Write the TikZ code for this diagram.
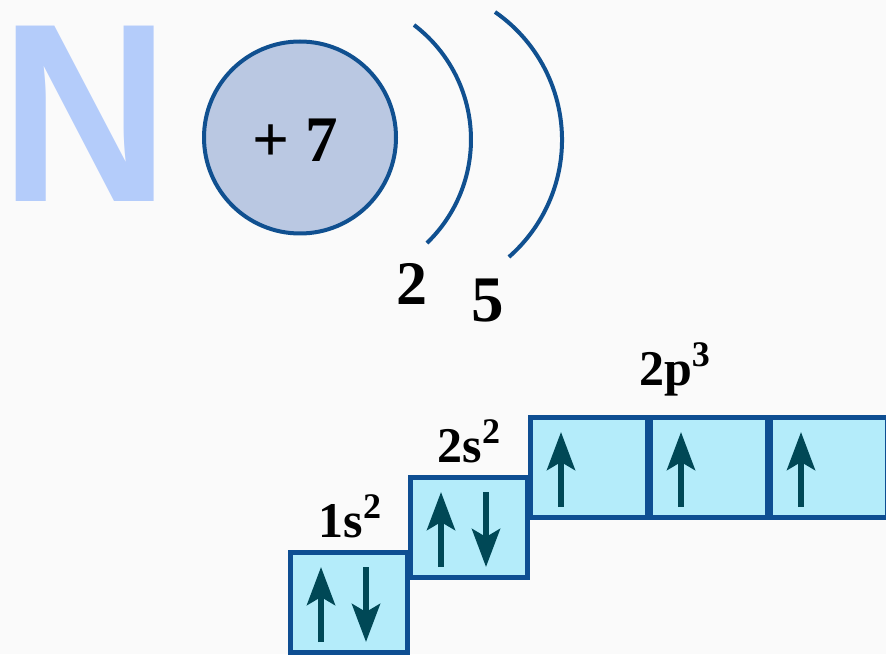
\documentclass[tikz,border=0pt]{standalone}
\usepackage{fontspec}
\setmainfont{Liberation Serif}
\newfontfamily\letterfont{Liberation Sans Bold}
\usetikzlibrary{arrows.meta}
\definecolor{bgcol}{RGB}{250,250,250}
\definecolor{ncol}{RGB}{180,204,250}
\definecolor{nucfill}{RGB}{186,200,226}
\definecolor{nucline}{RGB}{16,80,144}
\definecolor{orbfill}{RGB}{180,236,250}
\definecolor{orbline}{RGB}{14,78,146}
\definecolor{spincol}{RGB}{0,72,86}
\newcommand{\orbsup}[1]{\raisebox{19pt}{\fontsize{36}{36}\selectfont #1}}
\tikzset{
  orb/.style={draw=orbline, fill=orbfill, line width=5pt, minimum width=117pt, minimum height=100pt, inner sep=0pt, outer sep=0pt},
  spin/.style={draw=spincol, line width=6pt, -{Stealth[length=38pt, width=28pt, inset=8pt]}},
  shell/.style={draw=nucline, line width=4pt},
  lbl/.style={font=\fontsize{50}{50}\selectfont\bfseries, anchor=base, inner sep=0pt},
}
\begin{document}
\begin{tikzpicture}[x=1pt, y=1pt]
\useasboundingbox (0,0) rectangle (886,654);
\fill[bgcol] (0,0) rectangle (886,654);
% element symbol and nucleus
\node[font=\letterfont\fontsize{255}{255}\selectfont, text=ncol, inner sep=0pt] (sym) at (85.5,540.5) {\scalebox{0.92}[1]{N}};
\node[draw=nucline, fill=nucfill, circle, line width=4pt, minimum size=192pt, inner sep=0pt] (nuc) at (300,516.5) {};
\node[font=\fontsize{65}{65}\selectfont\bfseries, anchor=base, inner sep=0pt] (charge) at (295,492) {+ 7};
% electron shells
\draw[shell] (414,629) arc[start angle=52.9, end angle=-46.1, radius=143.6];
\draw[shell] (495,642) arc[start angle=55.3, end angle=-48.8, radius=155.6];
\node[font=\fontsize{62}{62}\selectfont\bfseries, anchor=base, inner sep=0pt] (k1) at (412,349) {2};
\node[font=\fontsize{65}{65}\selectfont\bfseries, anchor=base, inner sep=0pt] (k2) at (488,332) {5};
% orbital boxes
\node[orb] (s1) at (349,51.5) {};
\node[orb] (s2) at (469,126.5) {};
\foreach \i in {1,2,3} {
  \node[orb] (p\i) at (469+120*\i,186.5) {};
}
% spins
\draw[spin] ([shift={(-28,-39.5)}]s1.center) -- ++(0,75);
\draw[spin] ([shift={(17,35.5)}]s1.center) -- ++(0,-75);
\draw[spin] ([shift={(-28,-39.5)}]s2.center) -- ++(0,75);
\draw[spin] ([shift={(17,35.5)}]s2.center) -- ++(0,-75);
\foreach \i in {1,2,3} {
  \draw[spin] ([shift={(-28,-39.5)}]p\i.center) -- ++(0,75);
}
% sublevel labels
\node[lbl] (l1s) at (350,117) {1s\orbsup{2}};
\node[lbl] (l2s) at (469,192) {2s\orbsup{2}};
\node[lbl] (l2p) at (674.5,269) {2p\orbsup{3}};
\end{tikzpicture}
\end{document}
